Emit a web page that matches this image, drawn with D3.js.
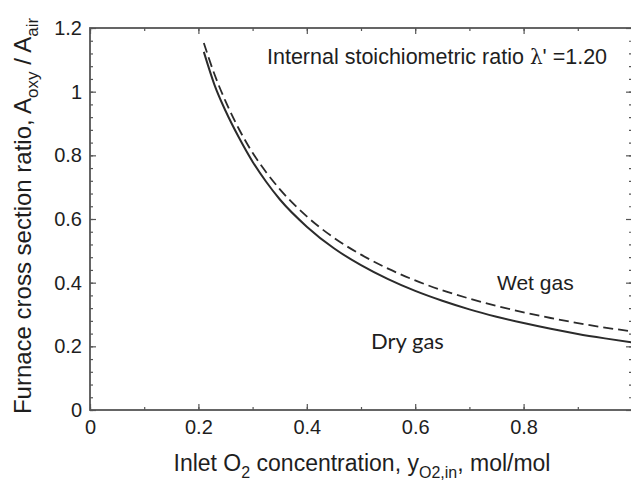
<!DOCTYPE html>
<html>
<head>
<meta charset="utf-8">
<script src="https://cdn.jsdelivr.net/npm/d3@7"></script>
<style>
  body { margin: 0; background: #fff; }
  svg { display: block; font-family: "Liberation Sans", Arial, sans-serif; }
</style>
</head>
<body>
<div id="chart"></div>
<script>
const width = 631;
const height = 482;

// data
const o2Conc = [0.21, 0.23, 0.25, 0.275, 0.3, 0.325, 0.35, 0.4, 0.45, 0.5, 0.55, 0.6, 0.65, 0.7, 0.75, 0.8, 0.85, 0.9, 0.95, 1.0];
const dryGas = [1.125, 1.02, 0.94, 0.855, 0.78, 0.717, 0.662, 0.576, 0.508, 0.455, 0.411, 0.374, 0.343, 0.316, 0.293, 0.273, 0.255, 0.239, 0.225, 0.212];
const wetGas = [1.153, 1.053, 0.97, 0.882, 0.808, 0.747, 0.694, 0.608, 0.541, 0.488, 0.444, 0.407, 0.376, 0.350, 0.327, 0.307, 0.289, 0.273, 0.259, 0.247];
const xTicks = [0, 0.2, 0.4, 0.6, 0.8];
const xTickLabels = ["0", "0.2", "0.4", "0.6", "0.8"];
const yTicks = [0, 0.2, 0.4, 0.6, 0.8, 1.0, 1.2];
const yTickLabels = ["0", "0.2", "0.4", "0.6", "0.8", "1", "1.2"];
const xMinor = d3.range(0, 1.0001, 0.1);
const yMinor = d3.range(0, 1.2001, 0.04);

const margin = { left: 90, top: 28, right: 632, bottom: 410 };

const svg = d3.select("#chart").append("svg")
  .attr("width", width)
  .attr("height", height);

const x = d3.scaleLinear().domain([0, 1]).range([margin.left, margin.right]);
const y = d3.scaleLinear().domain([0, 1.2]).range([margin.bottom, margin.top]);

const axisColor = "#555";
const textColor = "#1e1e1e";

// minor ticks (all four sides, pointing inward)
function minorAxis(axis, transform) {
  const g = svg.append("g").attr("transform", transform).call(axis);
  g.select(".domain").remove();
  g.selectAll(".tick line").attr("stroke", axisColor).attr("stroke-width", 1.2);
  g.selectAll("text").remove();
}
minorAxis(d3.axisBottom(x).tickValues(xMinor).tickSize(-3), `translate(0,${margin.bottom})`);
minorAxis(d3.axisTop(x).tickValues(xMinor).tickSize(-3), `translate(0,${margin.top})`);
minorAxis(d3.axisLeft(y).tickValues(yMinor).tickSize(-3), `translate(${margin.left},0)`);
minorAxis(d3.axisRight(y).tickValues(yMinor).tickSize(-3), `translate(${margin.right},0)`);
minorAxis(d3.axisTop(x).tickValues(xTicks).tickSize(-6), `translate(0,${margin.top})`);
minorAxis(d3.axisRight(y).tickValues(yTicks).tickSize(-6), `translate(${margin.right},0)`);

// major axes with labels
const xAxis = svg.append("g")
  .attr("transform", `translate(0,${margin.bottom})`)
  .call(d3.axisBottom(x).tickValues(xTicks).tickFormat((d, i) => xTickLabels[i]).tickSize(-6).tickPadding(10));
const yAxis = svg.append("g")
  .attr("transform", `translate(${margin.left},0)`)
  .call(d3.axisLeft(y).tickValues(yTicks).tickFormat((d, i) => yTickLabels[i]).tickSize(-6).tickPadding(8));
[xAxis, yAxis].forEach(g => {
  g.select(".domain").remove();
  g.selectAll(".tick line").attr("stroke", axisColor).attr("stroke-width", 1.2);
  g.selectAll("text").attr("font-size", 20).attr("fill", textColor)
    .attr("font-family", "'Liberation Sans', Arial, sans-serif");
});

// frame
svg.append("rect")
  .attr("x", margin.left).attr("y", margin.top)
  .attr("width", margin.right - margin.left).attr("height", margin.bottom - margin.top)
  .attr("fill", "none").attr("stroke", axisColor).attr("stroke-width", 1.8);

// curves
const line = d3.line()
  .x((d, i) => x(o2Conc[i]))
  .y(d => y(d))
  .curve(d3.curveMonotoneX);

svg.append("path").datum(dryGas)
  .attr("d", line).attr("fill", "none")
  .attr("stroke", "#2b2b2b").attr("stroke-width", 2);

svg.append("path").datum(wetGas)
  .attr("d", line).attr("fill", "none")
  .attr("stroke", "#2b2b2b").attr("stroke-width", 1.8)
  .attr("stroke-dasharray", "10,5");

// annotations
const note = svg.append("text")
  .attr("x", 267).attr("y", 64)
  .attr("font-size", 21.5).attr("fill", textColor);
note.append("tspan").text("Internal stoichiometric ratio ");
note.append("tspan").attr("font-family", "'DejaVu Serif', serif").attr("font-size", 20).text("λ");
note.append("tspan").text("' =1.20");

svg.append("text")
  .attr("x", 497).attr("y", 290)
  .attr("font-size", 21).attr("fill", textColor)
  .text("Wet gas");

svg.append("text")
  .attr("x", 371).attr("y", 349)
  .attr("font-size", 22).attr("fill", textColor)
  .attr("font-family", "Lato, 'Open Sans', sans-serif")
  .text("Dry gas");

// x title
const xTitle = svg.append("text")
  .attr("x", 362).attr("y", 471)
  .attr("text-anchor", "middle")
  .attr("font-size", 23).attr("fill", textColor);
xTitle.append("tspan").text("Inlet O");
xTitle.append("tspan").attr("font-size", 16).attr("dy", 7).text("2");
xTitle.append("tspan").attr("dy", -7).text(" concentration, y");
xTitle.append("tspan").attr("font-size", 16).attr("dy", 7).text("O2,in");
xTitle.append("tspan").attr("dy", -7).text(", mol/mol");

// y title
const yTitle = svg.append("text")
  .attr("transform", "translate(31,216) rotate(-90)")
  .attr("text-anchor", "middle")
  .attr("font-size", 24).attr("fill", textColor);
yTitle.append("tspan").text("Furnace cross section ratio, A");
yTitle.append("tspan").attr("font-size", 17).attr("dy", 7).text("oxy");
yTitle.append("tspan").attr("dy", -7).text(" / A");
yTitle.append("tspan").attr("font-size", 17).attr("dy", 7).text("air");
</script>
</body>
</html>
